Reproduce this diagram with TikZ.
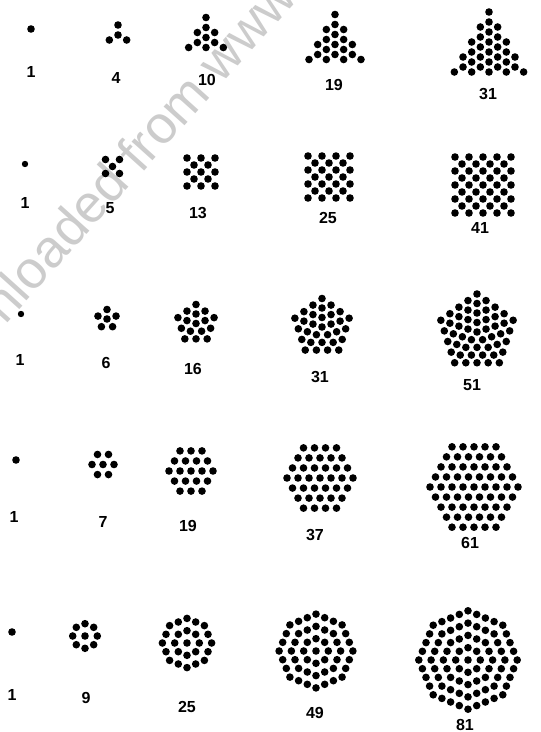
\documentclass[tikz,border=0pt]{standalone}
\usepackage{fontspec}
\setmainfont{Liberation Sans}
\newcommand\dotr{3.8}
\newcommand\cpoly[7]{% cx, cy, K, N, qx, qy, theta0
  \fill (#1,#2) circle (\dotr);
  \foreach \n in {1,...,#4}{
    \foreach \k in {1,...,#3}{
      \foreach \j in {1,...,\n}{
        \pgfmathsetmacro\aA{#7+(\k-1)*360/#3}
        \pgfmathsetmacro\aB{#7+\k*360/#3}
        \pgfmathsetmacro\ptx{#1+((\n-\j+1)*cos(\aA)+(\j-1)*cos(\aB))*#5}
        \pgfmathsetmacro\pty{#2-((\n-\j+1)*sin(\aA)+(\j-1)*sin(\aB))*#6}
        \fill (\ptx,\pty) circle (\dotr);
      }}}}
\tikzset{
  num/.style={font=\bfseries\fontsize{16}{16}\selectfont, inner sep=0pt, anchor=center},
  wmark/.style={font=\fontsize{53}{53}\selectfont, text=black!20, inner sep=0pt, anchor=base west, rotate=48},
}
\begin{document}
\begin{tikzpicture}[x=1pt,y=-1pt]
\fill[white] (0,0) rectangle (541,732);
\useasboundingbox (0,0) rectangle (541,732);
\begin{scope}
\clip (0,0) rectangle (541,732);
\node[wmark] (wm) at (-66,404) {Downloaded from www};
\end{scope}
% row 1: triangles
\fill (31,29) circle (\dotr);
\cpoly{118}{35}{3}{1}{10}{10}{90}
\cpoly{206}{37.5}{3}{2}{10}{10}{90}
\cpoly{335}{44.5}{3}{3}{10}{10}{90}
\cpoly{489}{52}{3}{4}{10}{10}{90}
\node[num] (t1) at (31,72) {1};
\node[num] (t4) at (116,78) {4};
\node[num] (t10) at (207,80) {10};
\node[num] (t19) at (334,85) {19};
\node[num] (t31) at (488,94) {31};
% row 2: squares
\fill (25,164) circle (3.2);
\cpoly{112.5}{166.5}{4}{1}{9.9}{9.9}{45}
\cpoly{201}{172}{4}{2}{9.9}{9.9}{45}
\cpoly{329}{177}{4}{3}{9.9}{9.9}{45}
\cpoly{483}{185}{4}{4}{9.9}{9.9}{45}
\node[num] (s1) at (25,203) {1};
\node[num] (s5) at (110,208) {5};
\node[num] (s13) at (198,213) {13};
\node[num] (s25) at (328,218) {25};
\node[num] (s41) at (480,228) {41};
% row 3: pentagons
\fill (21,314) circle (3.2);
\cpoly{107}{319}{5}{1}{9.5}{9.5}{90}
\cpoly{196}{323.5}{5}{2}{9.5}{9.5}{90}
\cpoly{322}{327}{5}{3}{9.5}{9.5}{90}
\cpoly{477}{332}{5}{4}{9.5}{9.5}{90}
\node[num] (p1) at (20,360) {1};
\node[num] (p6) at (106,363) {6};
\node[num] (p16) at (193,369) {16};
\node[num] (p31) at (320,377) {31};
\node[num] (p51) at (472,385) {51};
% row 4: hexagons
\fill (16,460) circle (\dotr);
\cpoly{103}{464.5}{6}{1}{11}{11.6}{0}
\cpoly{191}{471}{6}{2}{11}{11.6}{0}
\cpoly{320}{478}{6}{3}{11}{11.6}{0}
\cpoly{474}{487}{6}{4}{11}{11.6}{0}
\node[num] (h1) at (14,517) {1};
\node[num] (h7) at (103,522) {7};
\node[num] (h19) at (188,526) {19};
\node[num] (h37) at (315,535) {37};
\node[num] (h61) at (470,543) {61};
% row 5: octagons
\fill (12,632) circle (\dotr);
\cpoly{85}{636}{8}{1}{12.3}{12.3}{90}
\cpoly{187}{643}{8}{2}{12.3}{12.3}{90}
\cpoly{316}{651}{8}{3}{12.3}{12.3}{90}
\cpoly{468}{660}{8}{4}{12.3}{12.3}{90}
\node[num] (o1) at (12,695) {1};
\node[num] (o9) at (86,698) {9};
\node[num] (o25) at (187,707) {25};
\node[num] (o49) at (315,713) {49};
\node[num] (o81) at (465,725) {81};
\end{tikzpicture}
\end{document}
